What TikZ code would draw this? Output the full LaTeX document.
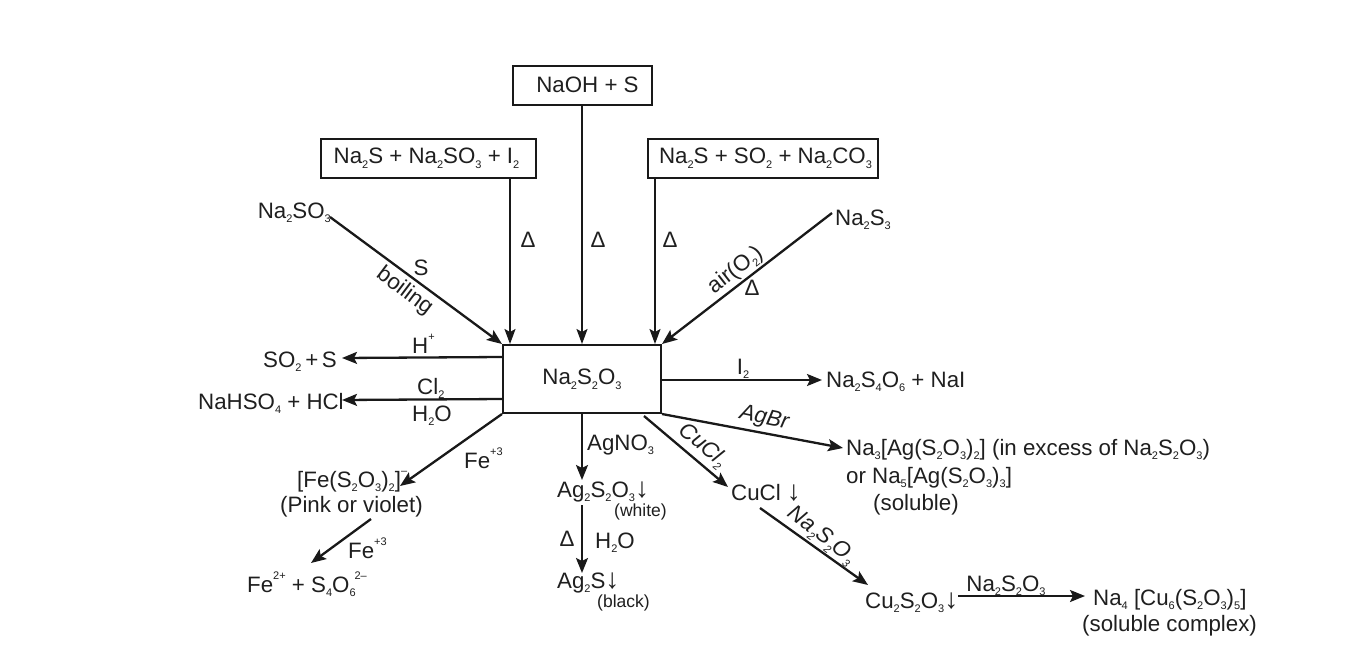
\documentclass[tikz,border=0pt]{standalone}
\usepackage{fontspec}
\setmainfont{Liberation Sans}
\usetikzlibrary{arrows.meta}
\newcommand{\dn}[1]{\raisebox{-0.22em}{\fontsize{11}{11}\selectfont #1}}
\newcommand{\upp}[1]{\raisebox{0.55em}{\fontsize{11}{11}\selectfont #1}}
\newcommand{\dar}{\scalebox{1.25}{↓}}
\tikzset{
  base/.style={inner sep=0pt,font=\fontsize{22.3}{25}\selectfont,text=black!88},
  lw/.style={base,anchor=base west},
  lc/.style={base,anchor=base},
  small/.style={font=\fontsize{17.5}{19}\selectfont},
  boxn/.style={base,draw=black!90,line width=2pt,rectangle},
  arr/.style={draw=black!90,line width=2.3pt,-{Stealth[length=15pt,width=12pt,inset=3pt]}},
  thin arr/.style={draw=black!90,line width=1.8pt,-{Stealth[length=15pt,width=11pt,inset=3pt]}},
}
\begin{document}
\begin{tikzpicture}[x=1pt,y=-1pt]
\useasboundingbox[fill=white] (0,0) rectangle (1366,672);
% boxes
\node[boxn,minimum width=158pt,minimum height=68pt] (main) at (582,379) {Na\dn{2}S\dn{2}O\dn{3}};
\node[boxn,minimum width=139pt,minimum height=39pt] (naoh) at (582,85) {\hspace*{11pt}NaOH + S};
\node[boxn,minimum width=215pt,minimum height=39pt] (boxa) at (428,158.5) {Na\dn{2}S + Na\dn{2}SO\dn{3} + I\dn{2}\hspace*{3pt}};
\node[boxn,minimum width=230pt,minimum height=39pt] (boxb) at (762.5,158.5) {\hspace*{6pt}Na\dn{2}S + SO\dn{2} + Na\dn{2}CO\dn{3}};
% top sources
\node[lw,anchor=base east] (sulfite) at (331,218) {Na\dn{2}SO\dn{3}};
\node[lw] (polys) at (835,225) {Na\dn{2}S\dn{3}};
% products
\node[lw] (so) at (263,367) {SO\dn{2}\,+\,S};
\node[lw] (nahso) at (198,409) {NaHSO\dn{4} + HCl};
\node[lw] (tetra) at (826,387) {Na\dn{2}S\dn{4}O\dn{6} + NaI};
\node[lw] (agc) at (846,455) {Na\dn{3}[Ag(S\dn{2}O\dn{3})\dn{2}] (in excess of Na\dn{2}S\dn{2}O\dn{3})};
\node[lw] (agd) at (846,483) {or Na\dn{5}[Ag(S\dn{2}O\dn{3})\dn{3}]};
\node[lw] (solu) at (873,510) {(soluble)};
\node[lw] (fec) at (297,487) {[Fe(S\dn{2}O\dn{3})\dn{2}]\upp{--}};
\node[lw] (pink) at (280,512) {(Pink or violet)};
\node[lw] (fep) at (247,592) {Fe\upp{2+} + S\dn{4}O\dn{6}\upp{\hspace{-0.1em}2--}};
\node[lw] (ag) at (557,497) {Ag\dn{2}S\dn{2}O\dn{3}\dar};
\node[lw,small] (white) at (614,516) {(white)};
\node[lw] (ags) at (557,588) {Ag\dn{2}S\dar};
\node[lw,small] (black) at (597,607) {(black)};
\node[lw] (cucl) at (731,500) {CuCl \dar};
\node[lw] (cus) at (865,608) {Cu\dn{2}S\dn{2}O\dn{3}\dar};
\node[lw] (cuc) at (1093,605) {Na\dn{4} [Cu\dn{6}(S\dn{2}O\dn{3})\dn{5}]};
\node[lw] (cucs) at (1082,631) {(soluble complex)};
% connectors into main
\draw[thin arr] (naoh.south) -- (main.north);
\draw[thin arr] ([xshift=-26.5pt]boxa.south east) -- ([xshift=8pt]main.north west);
\draw[thin arr] ([xshift=8.5pt]boxb.south west) -- ([xshift=-7pt]main.north east);
\draw[arr] ([shift={(-1,-1)}]sulfite.base east) -- (main.north west);
\draw[arr] ([shift={(-3,-12)}]polys.base west) -- (main.north east);
% connectors out of main
\draw[arr] ([shift={(0,13)}]main.north west) -- ([shift={(79,-9)}]so.base west);
\draw[arr] ([shift={(0,55)}]main.north west) -- ([shift={(144,-9)}]nahso.base west);
\draw[arr] ([shift={(0,1)}]main.east) -- ([shift={(-4,-7)}]tetra.base west);
\draw[arr] (main.south east) -- ([shift={(-3,-7)}]agc.base west);
\draw[arr] (main.south west) -- ([shift={(103,-1)}]fec.base west);
\draw[arr] ([shift={(91,7)}]pink.base west) -- ([shift={(64,-29)}]fep.base west);
\draw[arr] (main.south) -- ([shift={(25,-17)}]ag.base west);
\draw[arr] ([shift={(25,8)}]ag.base west) -- ([shift={(25,-15)}]ags.base west);
\draw[arr] ([shift={(-18,2)}]main.south east) -- ([shift={(-3,-13)}]cucl.base west);
\draw[arr] ([shift={(29,8)}]cucl.base west) -- ([shift={(3,-23)}]cus.base west);
\draw[arr] ([shift={(93,-12)}]cus.base west) -- ([shift={(-8,-9)}]cuc.base west);
% labels
\node[lc] (d1) at (528,247) {Δ};
\node[lc] (d2) at (598,247) {Δ};
\node[lc] (d3) at (670,247) {Δ};
\node[lc] (ls) at (421,275) {S};
\node[lc,rotate=-37] (lb) at (401,296) {boiling};
\node[lc,rotate=38] (lair) at (739,275) {air(O\dn{2})};
\node[lc] (ld) at (752,295) {Δ};
\node[lw] (lh) at (412,353) {H\upp{+}};
\node[lw] (lcl) at (417,394) {Cl\dn{2}};
\node[lw] (lho) at (412,421) {H\dn{2}O};
\node[lc] (li) at (743,374) {I\dn{2}};
\node[lc,rotate=-12] (lagbr) at (763,424) {\itshape AgBr};
\node[lw] (lfe) at (464,468) {Fe\upp{+3}};
\node[lw] (lfe2) at (348,558) {Fe\upp{+3}};
\node[lw] (lagn) at (587,450) {AgNO\dn{3}};
\node[lc] (ld4) at (567,546) {Δ};
\node[lw] (lho2) at (595,548) {H\dn{2}O};
\node[lc,rotate=-40] (lcu) at (699,450) {\itshape CuCl\dn{2}};
\node[lc,rotate=-38] (lna) at (818,540) {\itshape Na\dn{2}S\dn{2}O\dn{3}};
\node[lc] (lna2) at (1006,591) {Na\dn{2}S\dn{2}O\dn{3}};
\end{tikzpicture}
\end{document}
